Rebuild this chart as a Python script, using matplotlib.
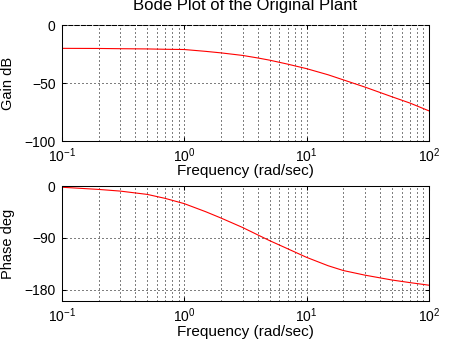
import matplotlib

matplotlib.use("Agg")
import matplotlib.pyplot as plt
from matplotlib.ticker import FixedLocator, LogLocator, NullFormatter

plt.rcParams["font.family"] = ["Liberation Sans", "DejaVu Sans"]
plt.rcParams["mathtext.default"] = "regular"
plt.rcParams["font.size"] = 10

# frequency response samples of the plant
freq = [0.1, 0.2, 0.3, 0.5, 0.7, 1.0, 1.5, 2.0, 3.0, 4.0, 5.0, 7.0, 10.0,
        15.0, 20.0, 30.0, 50.0, 70.0, 100.0]
gain_db = [-20.0, -20.1, -20.3, -20.5, -20.8, -21.0, -22.6, -23.9, -26.1,
           -28.3, -30.2, -33.6, -37.5, -42.8, -47.2, -53.4, -61.8, -67.2,
           -73.9]
phase_deg = [-2.0, -5.8, -8.7, -14.5, -21.4, -30.5, -44.6, -55.6, -72.0,
             -85.0, -95.0, -109.0, -124.0, -138.6, -147.0, -155.0, -163.5,
             -168.0, -172.5]

gain_ticks = [-100, -50, 0]
phase_ticks = [-180, -90, 0]


def style_axes(ax, yticks, ylim):
    ax.set_xscale("log")
    ax.set_xlim(0.1, 100)
    ax.set_ylim(*ylim)
    ax.yaxis.set_major_locator(FixedLocator(yticks))
    ax.xaxis.set_major_locator(LogLocator(base=10))
    ax.xaxis.set_minor_locator(LogLocator(base=10, subs=range(2, 10)))
    ax.xaxis.set_minor_formatter(NullFormatter())
    ax.tick_params(which="major", direction="in", length=3, width=0.75,
                   top=True, right=True)
    ax.tick_params(which="minor", direction="in", length=0, top=True)
    ax.tick_params(axis="x", pad=4)
    ax.tick_params(axis="y", pad=4.5)
    grid_kw = dict(color="black", linewidth=0.72, linestyle=(0, (1, 3)))
    ax.grid(True, which="major", **grid_kw)
    ax.grid(True, which="minor", axis="x", **grid_kw)
    for sp in ax.spines.values():
        sp.set_linewidth(0.75)
    ax.set_axisbelow(True)


fig = plt.figure(figsize=(4.75, 3.4), dpi=100)
ax1 = fig.add_axes([0.130, 0.585, 0.773, 0.341])
ax2 = fig.add_axes([0.130, 0.1147, 0.773, 0.338])

ax1.plot(freq, gain_db, color="#ff0000", linewidth=0.8)
style_axes(ax1, gain_ticks, (-100, 0))
ax1.spines["top"].set_linestyle((0, (4, 2)))
ax1.set_title("Bode Plot of the Original Plant", pad=11)
ax1.set_ylabel("Gain dB", fontsize=10.5)
ax1.set_xlabel("Frequency (rad/sec)", fontsize=11)
ax1.yaxis.set_label_coords(-0.127, 0.5)
ax1.xaxis.set_label_coords(0.5, -0.195)

ax2.plot(freq, phase_deg, color="#ff0000", linewidth=0.8)
style_axes(ax2, phase_ticks, (-200, 0))
ax2.set_ylabel("Phase deg", fontsize=10.5)
ax2.set_xlabel("Frequency (rad/sec)", fontsize=11)
ax2.yaxis.set_label_coords(-0.127, 0.5)
ax2.xaxis.set_label_coords(0.5, -0.205)

fig.savefig("out.png", dpi=100)
